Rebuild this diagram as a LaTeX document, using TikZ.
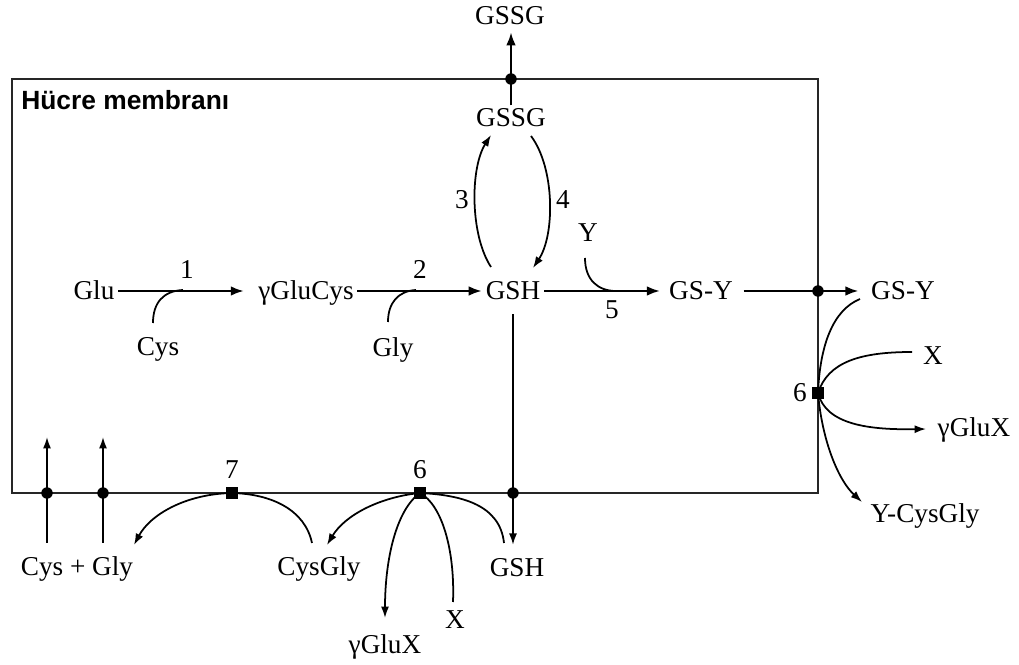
\documentclass[tikz,border=0pt]{standalone}
\usepackage{fontspec}
\setmainfont{Liberation Serif}
\newfontfamily\labfont{Liberation Sans}
\usetikzlibrary{arrows.meta}
\tikzset{
  lbl/.style={font=\fontsize{15.5}{17}\selectfont, inner sep=2pt, text height=10pt, text depth=0pt},
  mainarr/.style={line width=1.4pt, -{Latex[length=7.5pt,width=5.5pt]}},
  mainln/.style={line width=1.4pt},
  thinln/.style={line width=1pt},
  thinarr/.style={line width=1pt, -{Latex[length=6.5pt,width=4.6pt]}},
  jdot/.style={circle, fill=black, inner sep=0pt, minimum size=6.5pt},
  jsq/.style={rectangle, fill=black, inner sep=0pt, minimum size=6.5pt},
  membrane/.style={line width=1.5pt, draw=black!85}
}
\begin{document}
\begin{tikzpicture}[x=0.02cm,y=-0.02cm]
\useasboundingbox (0,0) rectangle (1019,665);
% membrane
\draw[membrane] (12,79) rectangle (818,493);
\node[anchor=west, font=\labfont\bfseries\fontsize{15}{17}\selectfont, inner sep=0pt] (mem) at (21,100) {Hücre membranı};

% labels
\node[lbl] (gssgO) at (510,16) {GSSG};
\node[lbl] (gssgI) at (511,118) {GSSG};
\node[lbl] (glu) at (94,291) {Glu};
\node[lbl] (gc) at (306,291) {γGluCys};
\node[lbl] (gsh) at (513,291) {GSH};
\node[lbl] (gsy) at (701,291) {GS-Y};
\node[lbl] (gsyO) at (903,291) {GS-Y};
\node[lbl] (cys) at (158,347) {Cys};
\node[lbl] (gly) at (393,348) {Gly};
\node[lbl] (yy) at (588,233) {Y};
\node[lbl] (n1) at (187,270) {1};
\node[lbl] (n2) at (420,270) {2};
\node[lbl] (n3) at (462,200) {3};
\node[lbl] (n4) at (563,200) {4};
\node[lbl] (n5) at (612,310) {5};
\node[lbl] (xr) at (933,356) {X};
\node[lbl] (gxr) at (974,428) {γGluX};
\node[lbl] (ycg) at (925,514) {Y-CysGly};
\node[lbl] (n6r) at (800,393) {6};
\node[lbl] (cg) at (77,567) {Cys + Gly};
\node[lbl] (cgly) at (319,567) {CysGly};
\node[lbl] (gshB) at (517,568) {GSH};
\node[lbl] (xb) at (455,620) {X};
\node[lbl] (gxb) at (385,645) {γGluX};
\node[lbl] (n7) at (232,470) {7};
\node[lbl] (n6b) at (420,470) {6};

% junction markers (positions)
\node[jdot] (dtop) at (511,79) {};
\node[jdot] (dright) at (818,291) {};
\node[jdot] (dgsh) at (513,493) {};
\node[jdot] (d1) at (47,493) {};
\node[jdot] (d2) at (103,493) {};
\node[jsq] (sq6r) at (818,393) {};
\node[jsq] (sq7) at (232,493) {};
\node[jsq] (sq6) at (420,493) {};

\coordinate (j1) at (183,290);
\coordinate (j2) at (416,290);
\coordinate (j5) at (616,291);
\coordinate (u1) at (47,437);
\coordinate (u2) at (103,437);

% top GSSG export
\draw[mainln] (dtop.center |- gssgI.north) -- (dtop.center);
\draw[mainarr, shorten >=2pt] (dtop.center) -- (dtop.center |- gssgO.south);

% 3 and 4
\draw[thinarr] ([shift={(-22,-24)}]gsh.center) .. controls (470,235) and (470,168) .. ([shift={(-20,17)}]gssgI.center);
\draw[thinarr] ([shift={(20,18)}]gssgI.center) .. controls (555,168) and (555,235) .. ([shift={(20,-23)}]gsh.center);

% main chain
\draw[mainarr, shorten >=6pt] (glu) -- (gc);
\draw[mainarr] (gc) -- (gsh);
\draw[mainarr, shorten >=3pt] (gsh) -- (gsy);
\draw[mainarr, shorten <=4pt, shorten >=5pt] (gsy) -- (gsyO);

% co-substrates
\draw[thinln] ([shift={(-5,-24)}]cys.center) .. controls (153,303) and (163,291) .. (j1);
\draw[thinln] ([shift={(-5,-26)}]gly.center) .. controls (388,303) and (398,291) .. (j2);
\draw[thinln] ([shift={(-3,25)}]yy.center) .. controls (585,280) and (598,291) .. (j5);

% right side reaction 6
\draw[thinln] ([shift={(-43,8)}]gsyO.center) .. controls (833,310) and (820,345) .. (sq6r.center);
\draw[thinln] ([shift={(-21,-4)}]xr.center) .. controls (860,352) and (828,362) .. (sq6r.center);
\draw[thinarr] (sq6r.center) .. controls (826,425) and (870,430) .. ([shift={(-48,1)}]gxr.center);
\draw[thinarr] (sq6r.center) .. controls (822,440) and (838,480) .. ([shift={(-63,-12)}]ycg.center);

% GSH export
\draw[thinarr, shorten <=6pt, shorten >=6pt] (gsh.south) -- (gsh.south |- gshB.north);

% bottom left uptake
\draw[thinarr] ([shift={(-30,-24)}]cg.center) -- (u1);
\draw[thinarr] ([shift={(26,-24)}]cg.center) -- (u2);

% reaction 7
\draw[thinln] ([shift={(-7,-24)}]cgly.center) .. controls (305,510) and (272,494) .. (sq7.center);
\draw[thinarr] (sq7.center) .. controls (185,494) and (150,515) .. ([shift={(57,-22)}]cg.center);

% bottom reaction 6
\draw[thinarr] (sq6.center) .. controls (380,497) and (345,515) .. ([shift={(8,-22)}]cgly.center);
\draw[thinarr] (sq6.center) .. controls (396,510) and (385,560) .. ([shift={(0,-27)}]gxb.center);
\draw[thinln] ([shift={(-2,-18)}]xb.center) .. controls (455,550) and (442,505) .. (sq6.center);
\draw[thinln] ([shift={(-13,-25)}]gshB.center) .. controls (500,505) and (462,495) .. (sq6.center);

% redraw markers on top
\foreach \m in {dtop,dright,dgsh,d1,d2}{\fill (\m) circle[radius=5.5];}
\foreach \m in {sq6r,sq7,sq6}{\fill ([shift={(-6,-6)}]\m.center) rectangle ([shift={(6,6)}]\m.center);}
\end{tikzpicture}
\end{document}
